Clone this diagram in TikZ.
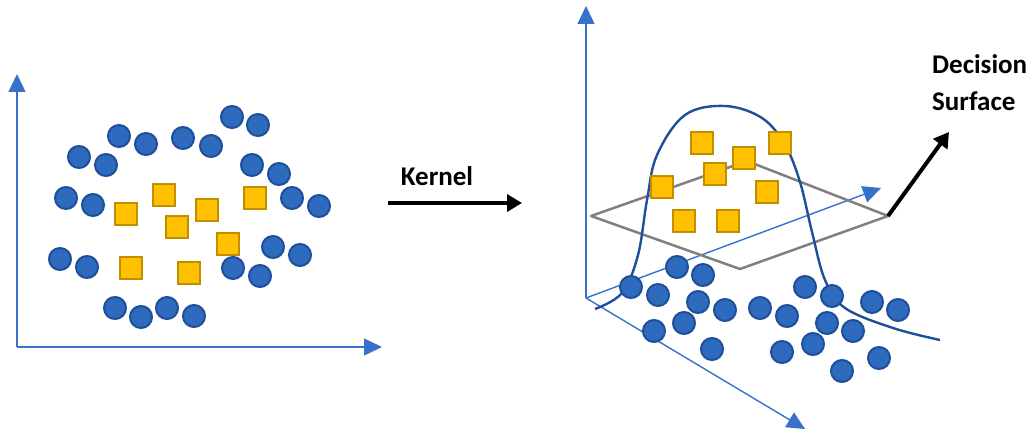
\documentclass[tikz,border=0pt]{standalone}
\usepackage{fontspec}
\setmainfont{Carlito}
\usetikzlibrary{arrows.meta}
\definecolor{dotfill}{HTML}{2E6BBF}
\definecolor{dotline}{HTML}{1F4E9A}
\definecolor{boxfill}{HTML}{FFC000}
\definecolor{boxline}{HTML}{BF8F00}
\definecolor{axisblue}{HTML}{3672CC}
\definecolor{planegray}{HTML}{808080}

\begin{document}
\begin{tikzpicture}[x=1pt, y=-1pt,
    dot/.style = {circle, draw=dotline, fill=dotfill, line width=2pt,
                  minimum size=22pt, inner sep=0pt},% blue class
    box/.style = {rectangle, draw=boxline, fill=boxfill, line width=2.4pt,
                  minimum size=22pt, inner sep=0pt},% yellow class
   axis/.style = {draw=axisblue, line width=1.4pt,
                  -{Triangle[length=18pt,width=17pt]}},
  thick arrow/.style = {draw=black, line width=3.5pt,
                  -{Triangle[length=15pt,width=17pt]}},
  label/.style = {font=\bfseries\fontsize{27}{37}\selectfont, inner sep=0pt},
                        ]
\useasboundingbox (0,0) rectangle (1035,433);
% left panel
\coordinate (L-o) at (17,347);
\coordinate (L-y) at (17,74);
\coordinate (L-x) at (382,347);
\draw[axis] (L-o) -- (L-y);
\draw[axis] (L-o) -- (L-x);
\foreach \x/\y [count=\i] in {232/117,258/125,119/136,146/144,183/138,211/146,
        79/157,106/165,252/165,279/174,66/198,93/205,292/198,319/206,
        273/247,300/255,60/259,87/267,233/268,260/276,
        115/308,141/317,167/308,194/316}% <-- blue points
    \node[dot] (L-c\i) at (\x,\y) {};
\foreach \x/\y [count=\i] in {164/195,126/214,207/210,255/198,
        177/227,228/244,131/268,189/273}% <-- yellow points
    \node[box] (L-s\i) at (\x,\y) {};
% kernel mapping
\node[label] (kernel) at (437,176) {Kernel};
\coordinate (k-in) at (388,203);
\coordinate (k-out) at (522,203);
\draw[thick arrow] (k-in) -- (k-out);
% right panel
\coordinate (R-o) at (586,298);
\coordinate (R-z) at (586,6);
\coordinate (R-y) at (881,188);
\coordinate (R-x) at (805,429);
\draw[axis] (R-o) -- (R-z);
\draw[axis] (R-o) -- (R-y);
\draw[axis] (R-o) -- (R-x);
\coordinate (P-1) at (591,216);
\coordinate (P-2) at (747,161);
\coordinate (P-3) at (888,216);
\coordinate (P-4) at (740,269);
\draw[planegray, line width=2.5pt, line join=round] (P-1) -- (P-2) -- (P-3) -- (P-4) -- cycle;
\draw[dotline, line width=2.4pt] plot[smooth, tension=0.6] coordinates {
        (595,309) (622,293) (638,255) (647,200) (657,155) (685,115) (725,106)
        (762,118) (785,145) (800,182) (812,232) (825,280) (845,308)
        (893,328) (940,340)};
\foreach \x/\y [count=\i] in {677/267,703/275,631/287,658/295,698/302,725/310,
        760/308,787/316,805/287,832/296,872/302,898/310,
        684/323,654/331,712/349,827/323,853/331,813/344,
        782/352,842/371,879/358}% <-- blue points, lifted
    \node[dot] (R-c\i) at (\x,\y) {};
\foreach \x/\y [count=\i] in {702/143,780/143,744/158,715/174,
        662/187,767/192,684/221,728/221}% <-- yellow points, lifted
    \node[box] (R-s\i) at (\x,\y) {};
% decision surface
\node[label, anchor=north west, align=left] (surface) at (932,54) {Decision\\Surface};
\coordinate (d-tip) at (949,132);
\draw[thick arrow, line width=4pt] (P-3) -- (d-tip);
\end{tikzpicture}
\end{document}
